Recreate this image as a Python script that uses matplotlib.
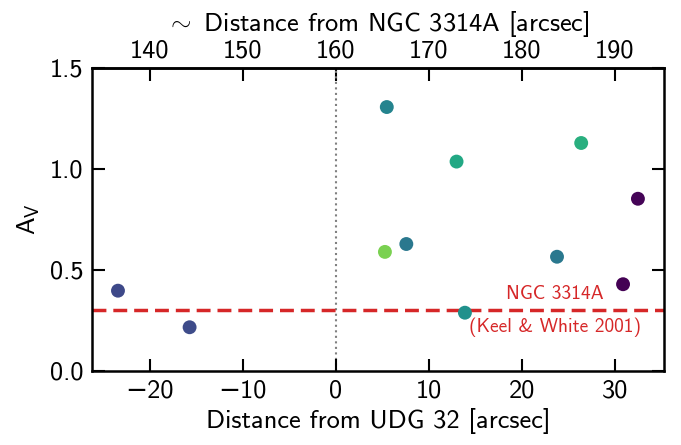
import numpy as np
import matplotlib
matplotlib.use("Agg")
import matplotlib.pyplot as plt

# Distance from UDG 32 [arcsec] and extinction of each region
dist_udg = [-23.4, -15.7, 5.5, 5.3, 7.6, 13.0, 13.9, 23.8, 26.4, 30.9, 32.5]
a_v = [0.396, 0.215, 1.305, 0.588, 0.627, 1.035, 0.287, 0.564, 1.127, 0.428, 0.851]
# colour value of each point (viridis)
col_val = [0.22, 0.23, 0.45, 0.80, 0.40, 0.60, 0.50, 0.40, 0.63, 0.00, 0.01]

# NGC 3314A value from Keel & White (2001)
av_ngc = 0.3
offset_ngc = 160.0

plt.rcParams['font.family'] = ['cmss10', 'DejaVu Sans']
plt.rcParams['mathtext.fontset'] = 'custom'
plt.rcParams['mathtext.rm'] = 'cmss10'
plt.rcParams['mathtext.it'] = 'cmss10'
plt.rcParams['mathtext.bf'] = 'cmss10'
plt.rcParams['axes.unicode_minus'] = True

fig = plt.figure(figsize=(6.81, 4.45), dpi=100)
ax = fig.add_axes([0.135, 0.167, 0.840, 0.681])

ax.scatter(dist_udg, a_v, c=col_val, cmap='viridis', vmin=0, vmax=1,
           s=100, edgecolors='none', zorder=3)

ax.axhline(av_ngc, color='#d62728', lw=2.5, dashes=(4, 2), zorder=2)
ax.axvline(0, color='gray', lw=1.5, ls=':', zorder=1)

ax.text(23.6, av_ngc + 0.035, 'NGC 3314A', color='#d62728', fontsize=14,
        ha='center', va='bottom')
ax.text(23.6, av_ngc - 0.035, '(Keel & White 2001)', color='#d62728', fontsize=14,
        ha='center', va='top')

ax.set_xlim(-26.2, 35.3)
ax.set_ylim(0, 1.5)
ax.set_yticks([0, 0.5, 1.0, 1.5])
ax.set_xticks([-20, -10, 0, 10, 20, 30])
ax.set_xlabel('Distance from UDG 32 [arcsec]', fontsize=19, labelpad=4)
ax.set_ylabel('$A_V$', fontsize=19, labelpad=6)

ax.tick_params(direction='in', length=9, width=1.5, labelsize=19,
               right=True, top=False, pad=6)
for sp in ax.spines.values():
    sp.set_linewidth(1.8)

sec = ax.secondary_xaxis('top', functions=(lambda x: x + offset_ngc,
                                           lambda x: x - offset_ngc))
sec.set_xticks([140, 150, 160, 170, 180, 190])
sec.tick_params(direction='in', length=9, width=1.5, labelsize=19, pad=4)
sec.set_xlabel(r'$\sim$ Distance from NGC 3314A [arcsec]', fontsize=19, labelpad=6)
sec.spines['top'].set_linewidth(1.8)

fig.savefig('out.png', dpi=100)
